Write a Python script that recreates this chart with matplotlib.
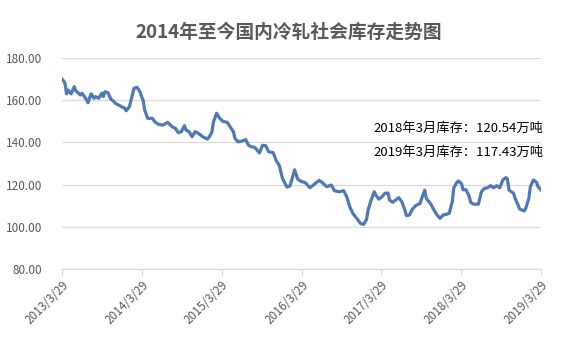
import numpy as np
import pandas as pd
import matplotlib
matplotlib.use("Agg")
import matplotlib.pyplot as plt
import matplotlib.dates as mdates

plt.rcParams["font.family"] = ["Noto Sans CJK SC", "DejaVu Sans"]

TITLE = "2014年至今国内冷轧社会库存走势图"
START = "2013-03-29"

# weeks since 2013-03-29 and stock level (万吨)
weeks = [
    0, 1, 2, 3, 4, 6, 8, 9, 12, 13, 15, 17, 19, 21, 22, 24, 26, 27, 28, 30,
    32, 33, 35, 38, 41, 42, 44, 46, 47, 49, 51, 52, 53, 54, 56, 59, 61, 63, 66, 69,
    72, 74, 76, 78, 80, 81, 83, 85, 87, 89, 92, 95, 97, 98, 99, 101, 103, 105, 108, 110,
    112, 113, 115, 117, 120, 122, 124, 126, 129, 131, 133, 135, 138, 140, 142, 144, 147, 149, 152, 154,
    156, 159, 162, 165, 168, 170, 173, 176, 178, 181, 184, 186, 188, 190, 193, 195, 197, 199, 200, 202,
    204, 205, 207, 209, 211, 213, 214, 216, 218, 220, 222, 224, 225, 227, 229, 231, 234, 235, 237, 238,
    241, 243, 245, 247, 249, 251, 253, 255, 256, 258, 259, 261, 262, 264, 266, 267, 269, 272, 273, 274,
    276, 278, 280, 282, 284, 286, 288, 290, 291, 292, 295, 296, 298, 299, 302, 303, 305, 306, 308, 310,
    311, 313,
]
stock = [
    170.0, 169.2, 168.0, 163.0, 164.8, 163.0, 166.4, 164.5, 162.5, 163.3,
    161.4, 158.8, 163.0, 160.9, 161.7, 160.9, 163.3, 161.7, 164.0, 163.6,
    160.4, 160.0, 158.5, 157.3, 156.2, 155.0, 156.9, 162.5, 165.6, 166.1,
    164.0, 161.7, 160.0, 155.4, 151.4, 151.4, 149.5, 148.6, 148.2, 149.5,
    147.4, 146.7, 144.6, 145.1, 147.9, 145.9, 145.1, 142.7, 145.1, 144.3,
    142.7, 141.5, 143.5, 145.1, 149.8, 153.8, 151.5, 150.0, 149.5, 147.2,
    145.1, 141.9, 140.3, 140.5, 141.3, 138.5, 137.9, 137.6, 135.0, 138.6,
    138.5, 135.6, 135.1, 131.3, 129.0, 123.0, 118.8, 119.4, 127.0, 122.6,
    121.6, 120.9, 118.5, 120.3, 122.0, 121.0, 119.0, 119.8, 117.1, 116.6,
    117.1, 114.3, 109.5, 106.4, 103.6, 101.6, 101.1, 103.6, 108.0, 112.7,
    116.6, 115.1, 113.1, 114.2, 115.9, 116.0, 112.7, 111.6, 112.7, 113.8,
    111.9, 108.0, 105.3, 105.6, 108.4, 110.0, 111.1, 113.5, 117.4, 113.5,
    110.7, 108.0, 105.6, 104.0, 105.6, 105.9, 106.4, 111.9, 118.5, 121.1,
    121.7, 120.5, 117.6, 117.5, 114.5, 111.6, 110.7, 110.7, 113.5, 116.6,
    118.2, 118.5, 119.5, 118.5, 119.5, 118.5, 122.2, 123.3, 122.7, 117.4,
    115.9, 113.5, 110.3, 108.4, 107.5, 108.8, 113.5, 119.0, 122.2, 121.1,
    119.0, 117.43,
]

tick_dates = ["2013-03-29", "2014-03-29", "2015-03-29", "2016-03-29",
              "2017-03-29", "2018-03-29", "2019-03-29"]
tick_labels = ["2013/3/29", "2014/3/29", "2015/3/29", "2016/3/29",
               "2017/3/29", "2018/3/29", "2019/3/29"]
y_ticks = [80, 100, 120, 140, 160, 180]

notes = ["2018年3月库存：120.54万吨", "2019年3月库存：117.43万吨"]

dates = pd.Timestamp(START) + pd.to_timedelta(np.array(weeks) * 7, unit="D")
ticks = pd.to_datetime(tick_dates)

fig = plt.figure(figsize=(5.67, 3.4), dpi=100)
ax = fig.add_axes([0.1093, 0.2088, 0.845, 0.6206])

grid_c = "#D9D9D9"
text_c = "#595959"

ax.plot(dates, stock, color="#4E79B5", linewidth=2.3, solid_joinstyle="round")

ax.set_xlim(ticks[0], ticks[-1])
ax.set_ylim(80, 180)
ax.set_yticks(y_ticks)
ax.set_yticklabels([f"{v:.2f}" for v in y_ticks])
ax.set_xticks(ticks)
ax.set_xticklabels(tick_labels, rotation=45, ha="right", rotation_mode="anchor")

ax.grid(axis="y", color=grid_c, linewidth=0.9)
ax.set_axisbelow(True)
for side in ["top", "right", "left"]:
    ax.spines[side].set_visible(False)
ax.spines["bottom"].set_color(grid_c)
ax.spines["bottom"].set_linewidth(0.9)
ax.tick_params(axis="y", length=0, labelsize=8.5, labelcolor=text_c, pad=14)
ax.tick_params(axis="x", length=4, color=grid_c, labelsize=8.5,
               labelcolor=text_c, pad=3)

fig.text(0.51, 0.905, TITLE, ha="center", va="center", fontsize=13.5,
         fontweight="bold", color=text_c)

ax.text(1.005, 0.668, notes[0], transform=ax.transAxes, ha="right",
        va="center", fontsize=9.5, color="black")
ax.text(1.005, 0.555, notes[1], transform=ax.transAxes, ha="right",
        va="center", fontsize=9.5, color="black")

fig.savefig("out.png", dpi=100)
